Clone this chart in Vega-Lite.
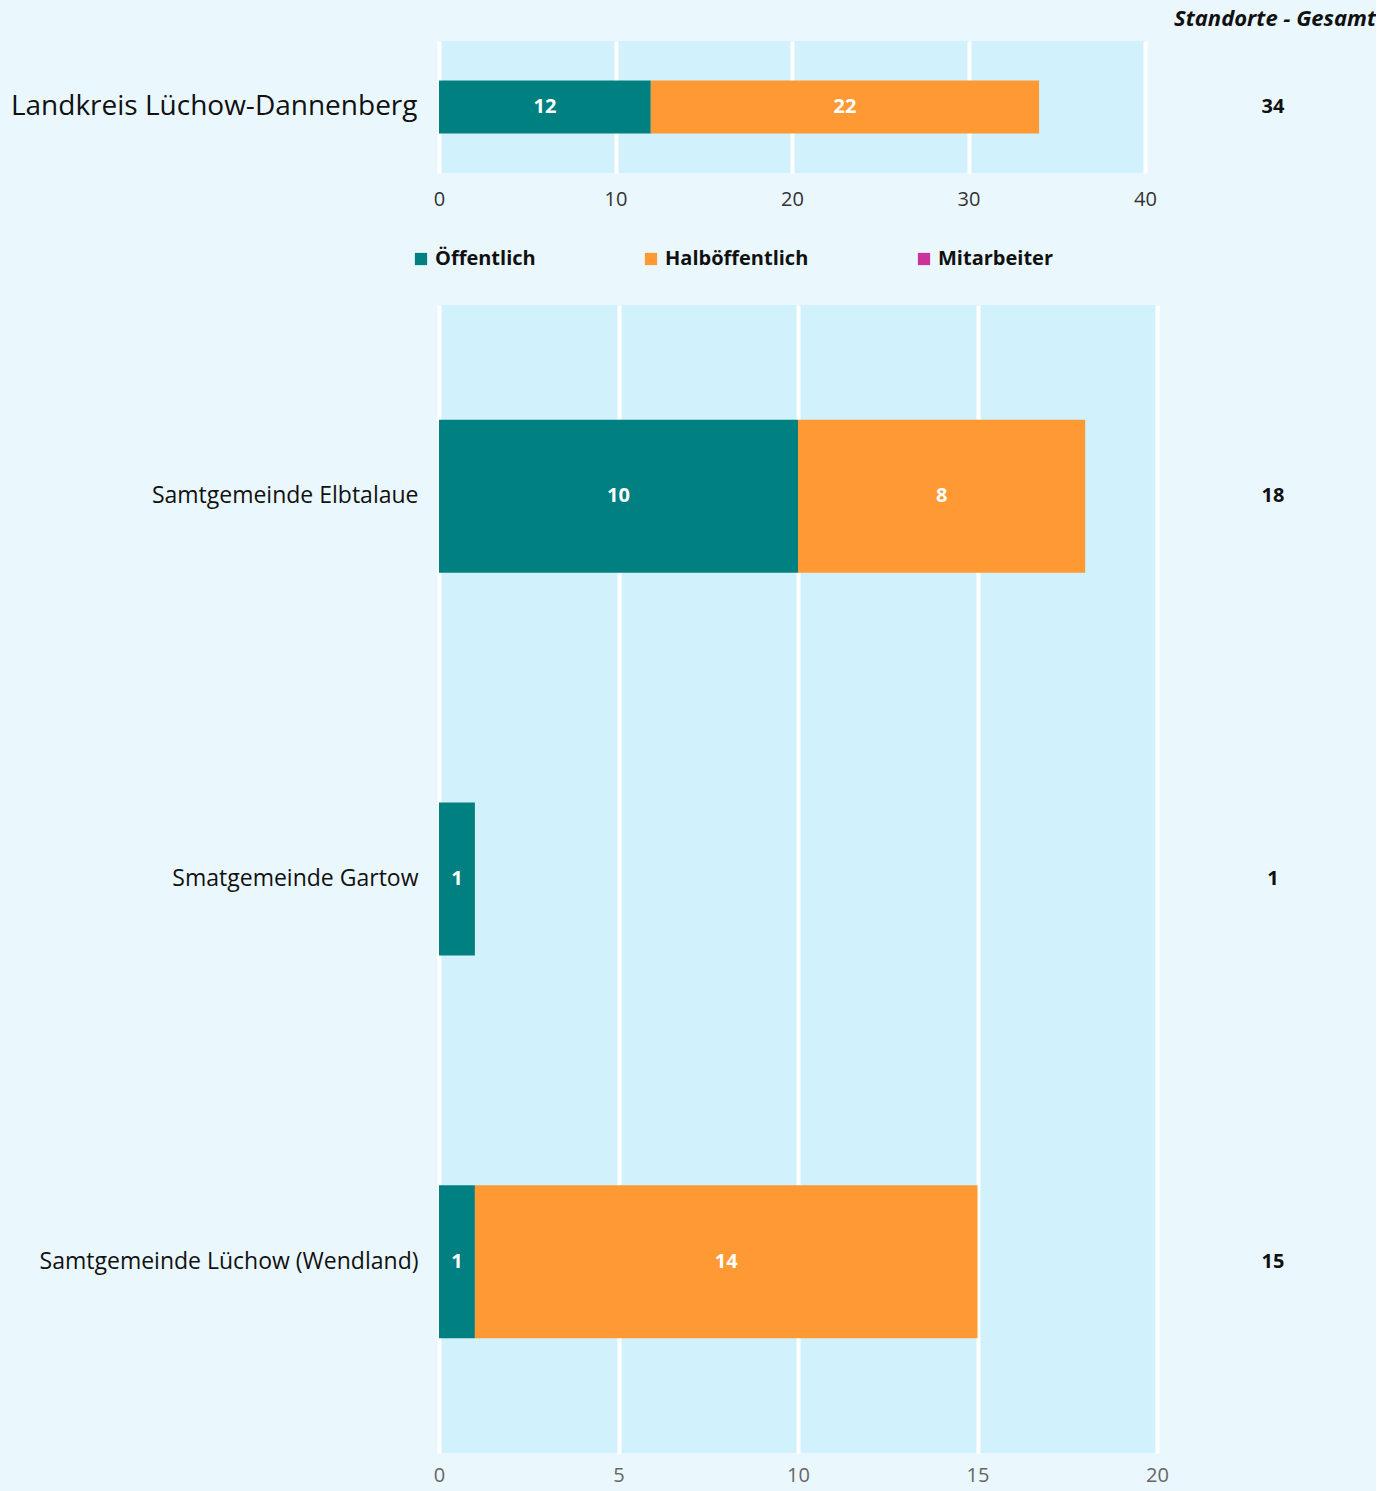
{
  "$schema": "https://vega.github.io/schema/vega-lite/v6.json",
  "background": "#EAF8FE",
  "padding": {"left": 10, "top": 8, "right": 0, "bottom": 7},
  "config": {
    "font": "Open Sans",
    "view": {"stroke": null, "fill": "#D1F1FD"},
    "axis": {"domain": false, "ticks": false, "grid": true, "gridColor": "#FFFFFF", "gridWidth": 4, "gridOpacity": 1, "labelFont": "Open Sans", "labelLimit": 0},
    "axisX": {"labelFlush": false},
    "concat": {"spacing": 40}
  },
  "datasets": {
    "top": [
      {"region": "Landkreis Lüchow-Dannenberg", "kategorie": "Öffentlich", "anzahl": 12},
      {"region": "Landkreis Lüchow-Dannenberg", "kategorie": "Halböffentlich", "anzahl": 22}
    ],
    "bottom": [
      {"region": "Samtgemeinde Elbtalaue", "kategorie": "Öffentlich", "anzahl": 10},
      {"region": "Samtgemeinde Elbtalaue", "kategorie": "Halböffentlich", "anzahl": 8},
      {"region": "Smatgemeinde Gartow", "kategorie": "Öffentlich", "anzahl": 1},
      {"region": "Samtgemeinde Lüchow (Wendland)", "kategorie": "Öffentlich", "anzahl": 1},
      {"region": "Samtgemeinde Lüchow (Wendland)", "kategorie": "Halböffentlich", "anzahl": 14}
    ]
  },
  "resolve": {"legend": {"color": "independent"}, "scale": {"y": "independent", "x": "independent"}},
  "vconcat": [
    {
      "spacing": 13,
      "resolve": {"scale": {"y": "independent"}},
      "hconcat": [
        {
          "width": 706,
          "height": 132,
          "data": {"name": "top"},
          "transform": [
            {"stack": "anzahl", "groupby": ["region"], "sort": [{"field": "kategorie", "order": "descending"}], "as": ["v0", "v1"]},
            {"calculate": "(datum.v0 + datum.v1) / 2", "as": "mid"}
          ],
          "encoding": {
            "y": {"field": "region", "type": "nominal", "title": null,
              "scale": {"paddingInner": 0.6, "paddingOuter": 0.3},
              "axis": {"labelFontSize": 28, "labelColor": "#111111", "labelPadding": 22, "minExtent": 425, "maxExtent": 425, "grid": false}}
          },
          "layer": [
            {
              "mark": {"type": "bar"},
              "encoding": {
                "x": {"field": "v0", "type": "quantitative", "title": null,
                  "scale": {"domain": [0, 40]},
                  "axis": {"values": [0, 10, 20, 30, 40], "labelFontSize": 20, "labelColor": "#333333", "labelPadding": 16}},
                "x2": {"field": "v1"},
                "color": {"field": "kategorie", "type": "nominal", "legend": null,
                  "scale": {"domain": ["Öffentlich", "Halböffentlich", "Mitarbeiter"], "range": ["#008080", "#FF9933", "#CC3399"]}}
              }
            },
            {
              "mark": {"type": "text", "color": "#FFFFFF", "fontWeight": "bold", "fontSize": 20},
              "encoding": {
                "x": {"field": "mid", "type": "quantitative"},
                "text": {"field": "anzahl", "type": "quantitative"}
              }
            }
          ]
        },
        {
          "width": 206,
          "height": 132,
          "view": {"fill": null},
          "title": {"text": "Standorte - Gesamt", "anchor": "end", "fontSize": 22, "fontWeight": "bold", "fontStyle": "italic", "color": "#111111", "offset": 10},
          "data": {"name": "top"},
          "mark": {"type": "text", "fontWeight": "bold", "fontSize": 20, "color": "#111111"},
          "encoding": {
            "y": {"field": "region", "type": "nominal", "axis": null},
            "text": {"aggregate": "sum", "field": "anzahl", "type": "quantitative"}
          }
        }
      ]
    },
    {
      "spacing": 1,
      "resolve": {"scale": {"y": "independent"}, "legend": {"color": "independent"}},
      "hconcat": [
        {
          "width": 718,
          "height": 1148,
          "data": {"name": "bottom"},
          "transform": [
            {"stack": "anzahl", "groupby": ["region"], "sort": [{"field": "kategorie", "order": "descending"}], "as": ["v0", "v1"]},
            {"calculate": "(datum.v0 + datum.v1) / 2", "as": "mid"}
          ],
          "encoding": {
            "y": {"field": "region", "type": "nominal", "title": null,
              "sort": ["Samtgemeinde Elbtalaue", "Smatgemeinde Gartow", "Samtgemeinde Lüchow (Wendland)"],
              "scale": {"paddingInner": 0.6, "paddingOuter": 0.3},
              "axis": {"labelFontSize": 23, "labelColor": "#111111", "labelPadding": 21, "minExtent": 429, "maxExtent": 429, "grid": false}}
          },
          "layer": [
            {
              "mark": {"type": "bar"},
              "encoding": {
                "x": {"field": "v0", "type": "quantitative", "title": null,
                  "scale": {"domain": [0, 20]},
                  "axis": {"values": [0, 5, 10, 15, 20], "labelFontSize": 20, "labelColor": "#666666", "labelPadding": 12}},
                "x2": {"field": "v1"},
                "color": {"field": "kategorie", "type": "nominal", "title": null,
                  "scale": {"domain": ["Öffentlich", "Halböffentlich", "Mitarbeiter"], "range": ["#008080", "#FF9933", "#CC3399"]},
                  "legend": {"orient": "none", "legendX": -28, "legendY": -56, "direction": "horizontal",
                    "symbolType": "square", "symbolSize": 150, "symbolStrokeWidth": 0, "symbolOpacity": 1,
                    "labelFontSize": 20, "labelFontWeight": "bold", "labelColor": "#111111", "labelOffset": 4,
                    "columnPadding": 105}}
              }
            },
            {
              "mark": {"type": "text", "color": "#FFFFFF", "fontWeight": "bold", "fontSize": 20},
              "encoding": {
                "x": {"field": "mid", "type": "quantitative"},
                "text": {"field": "anzahl", "type": "quantitative"}
              }
            }
          ]
        },
        {
          "width": 206,
          "height": 1148,
          "view": {"fill": null},
          "data": {"name": "bottom"},
          "mark": {"type": "text", "fontWeight": "bold", "fontSize": 20, "color": "#111111"},
          "encoding": {
            "y": {"field": "region", "type": "nominal", "axis": null,
              "sort": ["Samtgemeinde Elbtalaue", "Smatgemeinde Gartow", "Samtgemeinde Lüchow (Wendland)"]},
            "text": {"aggregate": "sum", "field": "anzahl", "type": "quantitative"}
          }
        }
      ]
    }
  ]
}
